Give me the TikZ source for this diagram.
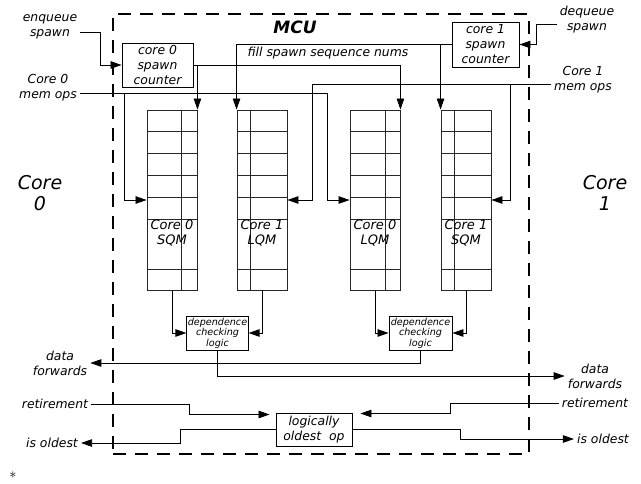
\documentclass[tikz,border=0pt]{standalone}
\usepackage{fontspec}
\setmainfont{DejaVu Sans}
\usepackage{tikz}
\usetikzlibrary{arrows.meta,positioning,calc}

\begin{document}
\begin{tikzpicture}[
    x=1pt, y=-1pt,
    font=\fontsize{12.4}{15}\selectfont\itshape,
    box/.style={rectangle, draw=black, line width=0.9pt, align=center, inner sep=1pt},
    queue/.style={rectangle, draw=black!85, line width=0.9pt, minimum width=50pt, minimum height=180pt},
    qline/.style={draw=black!85, line width=0.9pt},
    qlabel/.style={align=center, inner sep=0pt, font=\fontsize{13}{14.5}\selectfont\itshape},
    deplogic/.style={box, font=\fontsize{9.6}{10.5}\selectfont\itshape, minimum height=34pt},
    lbl/.style={align=center, inner sep=3pt},
    corelbl/.style={align=center, font=\fontsize{19}{21}\selectfont\itshape},
    arrow/.style={-{Triangle[length=11pt,width=7.5pt]}, line width=0.8pt},
    mcubox/.style={rectangle, draw=black, line width=2.8pt, dash pattern=on 13pt off 9pt, minimum width=416pt, minimum height=440pt},
]
\useasboundingbox (0,0) rectangle (641,483);

% MCU frame
\node[mcubox] (mcu) at (321,234) {};
\node[font=\fontsize{17}{20}\selectfont\bfseries\itshape] (mcutitle) at (295,27) {MCU};
\node[corelbl] (core0) at (40,193) {Core\\0};
\node[corelbl] (core1) at (605,193) {Core\\1};

% Spawn counters
\node[box, minimum width=71pt, minimum height=44pt] (cnt0) at (157.5,65) {core 0\\spawn\\counter};
\node[box, minimum width=67pt, minimum height=45pt] (cnt1) at (485.5,44.5) {core 1\\spawn\\counter};
\node[lbl] (enq) at (50,27) {enqueue\\spawn};
\node[lbl] (deq) at (587,20) {dequeue\\spawn};
\node[lbl] (fill) at (328,53) {fill spawn sequence nums};

% Queues
\node[queue] (sqm0) at (172,200) {};
\node[queue] (lqm1) at (262,200) {};
\node[queue] (lqm0) at (375,200) {};
\node[queue] (sqm1) at (466,200) {};
\foreach \q/\d in {sqm0/35, lqm1/14, lqm0/36, sqm1/14} {
  \foreach \r in {22,44,66,88,110,160}
    \draw[qline] ([yshift=-\r*1pt]\q.north west) -- ([yshift=-\r*1pt]\q.north east);
  \draw[qline] ([xshift=\d*1pt]\q.north west) -- ([xshift=\d*1pt]\q.south west);
}
\node[qlabel] (sqm0txt) at ([yshift=-33pt]sqm0.center) {Core 0\\SQM};
\node[qlabel] (lqm1txt) at ([yshift=-33pt]lqm1.center) {Core 1\\LQM};
\node[qlabel] (lqm0txt) at ([yshift=-33pt]lqm0.center) {Core 0\\LQM};
\node[qlabel] (sqm1txt) at ([yshift=-33pt]sqm1.center) {Core 1\\SQM};

% Mem ops
\node[lbl] (mem0) at (48,88) {Core 0\\mem ops};
\node[lbl] (mem1) at (583,80) {Core 1\\mem ops};
\coordinate (mem0in) at (80,93);
\coordinate (mem1in) at (551,84);

% Dependence checking
\node[deplogic, minimum width=61pt] (dep0) at (217.5,333) {dependence\\checking\\logic};
\node[deplogic, minimum width=63pt] (dep1) at (420.5,333) {dependence\\checking\\logic};
\node[lbl] (fwd0) at (60,363) {data\\forwards};
\node[lbl] (fwd1) at (595,376) {data\\forwards};

% Retirement
\node[box, minimum width=76pt, minimum height=33pt] (old) at (314,429.5) {logically\\oldest\ \ op};
\node[lbl] (ret0) at (55,404) {retirement};
\node[lbl] (ret1) at (595,403) {retirement};
\node[lbl] (isold0) at (52,443) {is oldest};
\node[lbl] (isold1) at (603,439) {is oldest};
\node[inner sep=0pt, font=\Large] (note) at (13,475) {$*$};

% Arrows
\draw[arrow] ([yshift=-5pt]enq.east) -- ++(20,0) |- (cnt0.west);
\draw[arrow] ([yshift=-4pt]deq.west) -- ++(-20,0) |- (cnt1.east);
\draw[arrow] (cnt0.east) -| (lqm0.north east);
\draw[arrow] (cnt0.east -| sqm0.north east) -- (sqm0.north east);
\draw[arrow] (cnt1.west) -| (lqm1.north west);
\draw[arrow] (cnt1.west -| sqm1.north west) -- (sqm1.north west);
\draw[arrow] (mem0in) -| ([xshift=-22pt]lqm0.west) -- (lqm0.west);
\draw[arrow] ([xshift=-22pt]sqm0.west |- mem0in) |- (sqm0.west);
\draw[arrow] (mem1in) -| ([xshift=25pt]lqm1.east) -- (lqm1.east);
\draw[arrow] ([xshift=19pt]sqm1.east |- mem1in) |- (sqm1.east);
\draw[arrow] (sqm0.south) |- (dep0.west);
\draw[arrow] (lqm1.south) |- (dep0.east);
\draw[arrow] (lqm0.south) |- (dep1.west);
\draw[arrow] (sqm1.south) |- (dep1.east);
\draw[arrow] (dep0.south) |- (fwd1.west);
\draw[arrow] (dep1.south) |- (fwd0.east);
\draw[arrow, shorten >=6pt] (ret0.east) -| ([xshift=-86pt,yshift=15pt]old.west) -- ([yshift=15pt]old.west);
\draw[arrow, shorten >=8pt] (ret1.west) -| ([xshift=98pt,yshift=16pt]old.east) -- ([yshift=16pt]old.east);
\draw[arrow] (old.west) -- ++(-95,0) |- (isold0.east);
\draw[arrow] (old.east) -- ++(108,0) |- (isold1.west);

\end{tikzpicture}
\end{document}
